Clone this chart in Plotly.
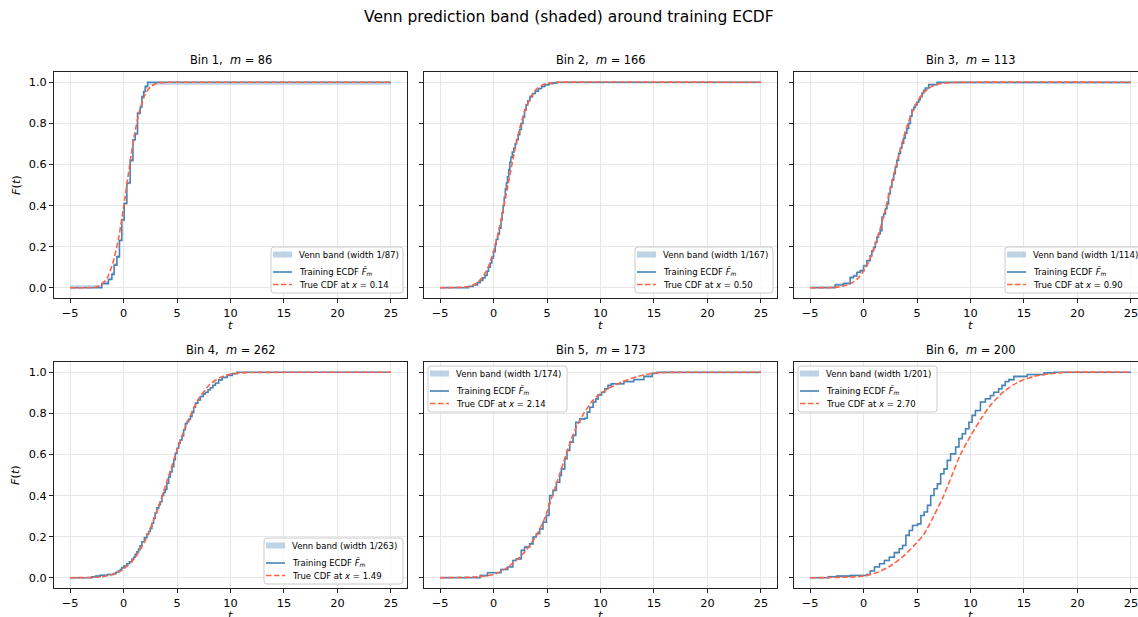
import plotly.graph_objects as go

# ---------------- data ----------------
bin_m = [86, 166, 113, 262, 173, 200]
bin_x = ["0.14", "0.50", "0.90", "1.49", "2.14", "2.70"]

# training ECDF: jump locations and the level after each jump
ecdf_t1 = [-2.03, -1.41, -1.09, -0.88, -0.62, -0.38, -0.16, 0.06, 0.31, 0.62, 0.88, 1.09, 1.31, 1.56, 1.72, 1.88, 2.03, 2.25]
ecdf_f1 = [0.02, 0.04, 0.065, 0.11, 0.15, 0.23, 0.33, 0.41, 0.51, 0.62, 0.72, 0.75, 0.85, 0.88, 0.93, 0.955, 0.98, 1.0]
ecdf_t2 = [-2.34, -1.9, -1.5, -1.25, -1.0, -0.8, -0.6, -0.47, -0.3, -0.16, 0.0, 0.16, 0.25, 0.4, 0.55, 0.7, 0.8, 0.9, 1.0, 1.1, 1.2, 1.3, 1.42, 1.52, 1.62, 1.75, 1.9, 2.03, 2.15, 2.3, 2.45, 2.6, 2.75, 2.9, 3.05, 3.2, 3.4, 3.65, 3.9, 4.2, 4.5, 4.8, 5.2, 5.6, 5.94]
ecdf_f2 = [0.006, 0.013, 0.024, 0.036, 0.048, 0.06, 0.08, 0.1, 0.12, 0.145, 0.175, 0.21, 0.235, 0.26, 0.29, 0.33, 0.365, 0.4, 0.44, 0.48, 0.51, 0.54, 0.575, 0.61, 0.635, 0.66, 0.68, 0.70, 0.72, 0.745, 0.77, 0.8, 0.83, 0.865, 0.89, 0.91, 0.93, 0.945, 0.957, 0.97, 0.98, 0.988, 0.994, 0.997, 1.0]
ecdf_t3 = [-2.66, -1.88, -1.25, -0.94, -0.62, -0.31, 0.0, 0.31, 0.62, 0.78, 0.94, 1.1, 1.25, 1.4, 1.56, 1.72, 1.88, 2.05, 2.19, 2.34, 2.5, 2.66, 2.82, 2.97, 3.12, 3.28, 3.45, 3.59, 3.75, 3.9, 4.05, 4.22, 4.38, 4.53, 4.7, 4.84, 5.0, 5.16, 5.3, 5.47, 5.62, 5.78, 6.09, 6.88]
ecdf_f3 = [0.013, 0.02, 0.049, 0.057, 0.074, 0.082, 0.106, 0.131, 0.155, 0.18, 0.196, 0.22, 0.245, 0.262, 0.278, 0.343, 0.359, 0.385, 0.408, 0.458, 0.49, 0.523, 0.555, 0.588, 0.62, 0.654, 0.68, 0.703, 0.728, 0.752, 0.775, 0.80, 0.835, 0.866, 0.878, 0.89, 0.903, 0.915, 0.93, 0.948, 0.96, 0.972, 0.989, 1.0]
ecdf_t4 = [-2.97, -2.6, -2.19, -1.5, -0.94, -0.7, -0.47, -0.3, -0.16, 0.05, 0.31, 0.55, 0.78, 0.95, 1.09, 1.25, 1.41, 1.55, 1.72, 1.95, 2.19, 2.35, 2.5, 2.65, 2.81, 2.95, 3.12, 3.3, 3.44, 3.59, 3.75, 3.9, 4.05, 4.22, 4.38, 4.53, 4.7, 4.84, 5.0, 5.16, 5.3, 5.47, 5.62, 5.78, 5.95, 6.09, 6.25, 6.4, 6.56, 6.72, 6.95, 7.19, 7.45, 7.66, 7.9, 8.12, 8.35, 8.59, 8.9, 9.22, 9.69, 10.16, 10.6]
ecdf_f4 = [0.004, 0.008, 0.012, 0.016, 0.02, 0.027, 0.033, 0.04, 0.049, 0.058, 0.068, 0.078, 0.09, 0.1, 0.114, 0.126, 0.139, 0.155, 0.175, 0.195, 0.212, 0.225, 0.24, 0.265, 0.29, 0.315, 0.34, 0.355, 0.37, 0.4, 0.415, 0.43, 0.46, 0.49, 0.515, 0.54, 0.575, 0.605, 0.63, 0.655, 0.67, 0.69, 0.72, 0.75, 0.76, 0.77, 0.785, 0.805, 0.83, 0.85, 0.865, 0.882, 0.895, 0.903, 0.915, 0.925, 0.937, 0.948, 0.963, 0.975, 0.985, 0.993, 1.0]
ecdf_t5 = [-1.25, -0.56, 0.69, 1.34, 1.81, 2.125, 2.59, 2.9, 3.375, 3.69, 4.0, 4.31, 4.625, 4.94, 5.19, 5.25, 5.56, 5.875, 6.19, 6.34, 6.66, 6.875, 7.125, 7.44, 7.69, 8.06, 8.53, 8.75, 9.0, 9.31, 9.56, 9.78, 10.1, 10.4, 10.7, 11.0, 12.19, 13.12, 14.06, 14.84, 15.3]
ecdf_f5 = [0.01, 0.024, 0.04, 0.052, 0.084, 0.092, 0.133, 0.149, 0.165, 0.198, 0.214, 0.238, 0.27, 0.303, 0.36, 0.40, 0.425, 0.465, 0.498, 0.53, 0.579, 0.62, 0.66, 0.693, 0.757, 0.773, 0.776, 0.806, 0.83, 0.855, 0.87, 0.89, 0.903, 0.92, 0.936, 0.944, 0.955, 0.965, 0.98, 0.995, 1.0]
ecdf_t6 = [-3.28, -2.5, -1.25, 0.31, 0.62, 1.02, 1.49, 1.95, 2.41, 2.88, 3.34, 3.65, 3.96, 4.27, 4.58, 5.05, 5.36, 5.67, 5.98, 6.28, 6.59, 6.9, 7.21, 7.52, 7.83, 8.14, 8.61, 8.92, 9.23, 9.54, 9.85, 10.15, 10.46, 10.93, 11.39, 11.86, 12.17, 12.63, 12.94, 13.25, 13.59, 14.06, 15.3, 16.88, 17.8]
ecdf_f6 = [0.005, 0.008, 0.011, 0.016, 0.033, 0.052, 0.068, 0.084, 0.10, 0.122, 0.141, 0.157, 0.206, 0.23, 0.254, 0.262, 0.303, 0.32, 0.352, 0.40, 0.433, 0.457, 0.506, 0.53, 0.571, 0.603, 0.636, 0.677, 0.701, 0.725, 0.757, 0.79, 0.814, 0.855, 0.871, 0.887, 0.903, 0.92, 0.936, 0.955, 0.964, 0.98, 0.989, 0.997, 1.0]

# true CDF (read at selected t values)
true_t1 = [-5, -3, -2.5, -2, -1.5, -1, -0.5, 0, 0.5, 1, 1.5, 2, 2.5, 3, 3.5, 4, 5, 25]
true_f1 = [0, 0.001, 0.005, 0.018, 0.05, 0.12, 0.23, 0.39, 0.57, 0.74, 0.86, 0.94, 0.977, 0.993, 0.998, 1.0, 1.0, 1.0]
true_t2 = [-5, -2.5, -2, -1.5, -1, -0.5, 0, 0.5, 1, 1.5, 2, 2.5, 3, 3.5, 4, 4.5, 5, 5.5, 6, 25]
true_f2 = [0, 0.004, 0.010, 0.025, 0.053, 0.10, 0.176, 0.28, 0.405, 0.54, 0.674, 0.786, 0.873, 0.931, 0.966, 0.985, 0.994, 0.998, 1.0, 1.0]
true_t3 = [-5, -3, -2, -1, -0.5, 0, 0.5, 1, 1.5, 2, 2.5, 3, 3.5, 4, 4.5, 5, 5.5, 6, 6.5, 7, 8, 25]
true_f3 = [0, 0.001, 0.006, 0.026, 0.047, 0.08, 0.128, 0.194, 0.277, 0.373, 0.48, 0.586, 0.686, 0.776, 0.848, 0.903, 0.942, 0.967, 0.983, 0.991, 0.998, 1.0]
true_t4 = [-5, -3, -2, -1, 0, 1, 2, 3, 4, 5, 6, 7, 8, 9, 10, 11, 12, 25]
true_f4 = [0, 0.0015, 0.005, 0.016, 0.042, 0.092, 0.179, 0.305, 0.46, 0.62, 0.762, 0.869, 0.937, 0.974, 0.991, 0.997, 0.999, 1.0]
true_t5 = [-5, -2, -1, 0, 0.875, 1.5, 2.28, 3.0, 3.375, 3.94, 4.625, 5.0, 5.5, 6.03, 6.75, 7.28, 7.81, 8.44, 9.16, 9.78, 10.7, 11.97, 12.75, 13.5, 14.5, 15.5, 25]
true_f5 = [0, 0.003, 0.007, 0.016, 0.036, 0.058, 0.092, 0.13, 0.157, 0.2, 0.27, 0.32, 0.40, 0.48, 0.595, 0.676, 0.74, 0.80, 0.855, 0.887, 0.92, 0.952, 0.968, 0.98, 0.992, 0.998, 1.0]
true_t6 = [-5, -2, 0, 1.25, 2.5, 3.75, 4.69, 5.625, 6.56, 7.5, 8.28, 9.06, 10.0, 10.94, 11.875, 13.125, 14.375, 15.94, 17.5, 19.06, 25]
true_f6 = [0, 0.002, 0.008, 0.025, 0.057, 0.106, 0.155, 0.21, 0.30, 0.40, 0.50, 0.60, 0.69, 0.77, 0.84, 0.907, 0.95, 0.98, 0.993, 1.0, 1.0]

x_ticks = [-5, 0, 5, 10, 15, 20, 25]
y_ticks = [0.0, 0.2, 0.4, 0.6, 0.8, 1.0]

ecdf_t = [ecdf_t1, ecdf_t2, ecdf_t3, ecdf_t4, ecdf_t5, ecdf_t6]
ecdf_f = [ecdf_f1, ecdf_f2, ecdf_f3, ecdf_f4, ecdf_f5, ecdf_f6]
true_t = [true_t1, true_t2, true_t3, true_t4, true_t5, true_t6]
true_f = [true_f1, true_f2, true_f3, true_f4, true_f5, true_f6]

# ---------------- layout geometry ----------------
W, H = 1138, 617
col_px = [(54, 407), (424, 777), (794, 1147)]
row_px = [(72, 298), (362, 588)]
PXU = 353 / 33.0  # pixels per t-unit

STEEL = "#4682B4"
TOMATO = "#FF6347"
BAND = "rgba(70,130,180,0.35)"
FONT = "DejaVu Sans"
DASH = "5.5px,2.5px"

# legend boxes: (left px, top px, width px)
legend_box = [(271, 247, 132), (635, 247, 138), (1005, 247, 138),
              (264, 538, 139), (428, 366, 139), (798, 366, 139)]


def px(xp):
    return xp / W


def py(yp):
    return 1 - yp / H


fig = go.Figure()
annotations = []
shapes = []
layout = dict(
    width=W, height=H, margin=dict(l=0, r=0, t=0, b=0, autoexpand=False),
    paper_bgcolor="white", plot_bgcolor="white",
    font=dict(family=FONT, size=11, color="#000"),
    showlegend=False,
)

for i in range(6):
    r, c = divmod(i, 3)
    k = i + 1
    xa = "x" if k == 1 else f"x{k}"
    ya = "y" if k == 1 else f"y{k}"
    m = bin_m[i]

    xs = [-5] + ecdf_t[i] + [25]
    fs = [0.0] + ecdf_f[i] + [ecdf_f[i][-1]]
    lower = [f * m / (m + 1) for f in fs]
    upper = [lo + 1.0 / (m + 1) for lo in lower]

    fig.add_trace(go.Scatter(x=xs, y=lower, mode="lines", line=dict(width=0, shape="hv", color=BAND),
                             hoverinfo="skip", xaxis=xa, yaxis=ya))
    fig.add_trace(go.Scatter(x=xs, y=upper, mode="lines", line=dict(width=0, shape="hv", color=BAND),
                             fill="tonexty", fillcolor=BAND, name=f"Venn band (width 1/{m + 1})",
                             xaxis=xa, yaxis=ya))
    fig.add_trace(go.Scatter(x=xs, y=fs, mode="lines", line=dict(width=1.6, shape="hv", color=STEEL),
                             name="Training ECDF", xaxis=xa, yaxis=ya))
    fig.add_trace(go.Scatter(x=true_t[i], y=true_f[i], mode="lines",
                             line=dict(width=1.6, color=TOMATO, dash=DASH, shape="spline", smoothing=0.6),
                             name=f"True CDF at x = {bin_x[i]}", xaxis=xa, yaxis=ya))

    x0, x1 = col_px[c]
    y0, y1 = row_px[r]
    xr0 = -6.5
    x1c = min(x1, W)
    xr1 = xr0 + (x1c - x0) / PXU
    axkey = "xaxis" if k == 1 else f"xaxis{k}"
    aykey = "yaxis" if k == 1 else f"yaxis{k}"
    layout[axkey] = dict(
        domain=[x0 / W, x1c / W], anchor=ya, range=[xr0, xr1],
        tickmode="array", tickvals=x_ticks, ticktext=[str(v).replace("-", "\u2212") for v in x_ticks],
        showgrid=True, gridcolor="#e7e7e7", gridwidth=1, zeroline=False,
        showline=True, linecolor="#222", linewidth=1, mirror=True,
        ticks="outside", ticklen=4, tickwidth=1, tickcolor="#222",
        ticklabeloverflow="allow",
        tickfont=dict(family=FONT, size=11.3, color="#000"),
    )
    layout[aykey] = dict(
        domain=[1 - y1 / H, 1 - y0 / H], anchor=xa, range=[-0.05, 1.05],
        tickmode="array", tickvals=y_ticks, ticktext=[f"{v:.1f}" for v in y_ticks],
        showticklabels=(c == 0),
        showgrid=True, gridcolor="#e7e7e7", gridwidth=1, zeroline=False,
        showline=True, linecolor="#222", linewidth=1, mirror=(c != 2),
        ticks="outside", ticklen=4, tickwidth=1, tickcolor="#222",
        tickfont=dict(family=FONT, size=11.3, color="#000"),
    )

    # subplot title
    annotations.append(dict(
        text=f"Bin {k},\u00a0\u00a0<i>m</i> = {m}", xref="paper", yref="paper",
        x=px((x0 + x1) / 2), y=py(y0 - 12), xanchor="center", yanchor="middle",
        showarrow=False, font=dict(family=FONT, size=11.4, color="#000")))
    # x label
    annotations.append(dict(
        text="<i>t</i>", xref="paper", yref="paper",
        x=px((x0 + x1) / 2), y=py(y1 + 27), xanchor="center", yanchor="middle",
        showarrow=False, font=dict(family=FONT, size=11.3, color="#000")))
    if c == 0:
        annotations.append(dict(
            text="<i>F</i>(<i>t</i>)", xref="paper", yref="paper", textangle=-90,
            x=px(16), y=py((y0 + y1) / 2), xanchor="center", yanchor="middle",
            showarrow=False, font=dict(family=FONT, size=11.3, color="#000")))

    # ---- in-axes legend (drawn as shapes + text) ----
    lx, ty, lw = legend_box[i]
    lh = 46
    rad = 3
    shapes.append(dict(
        type="path", xref="paper", yref="paper", layer="above",
        path=(f"M {px(lx + rad)},{py(ty)} L {px(lx + lw - rad)},{py(ty)} "
              f"Q {px(lx + lw)},{py(ty)} {px(lx + lw)},{py(ty + rad)} "
              f"L {px(lx + lw)},{py(ty + lh - rad)} Q {px(lx + lw)},{py(ty + lh)} {px(lx + lw - rad)},{py(ty + lh)} "
              f"L {px(lx + rad)},{py(ty + lh)} Q {px(lx)},{py(ty + lh)} {px(lx)},{py(ty + lh - rad)} "
              f"L {px(lx)},{py(ty + rad)} Q {px(lx)},{py(ty)} {px(lx + rad)},{py(ty)} Z"),
        fillcolor="rgba(255,255,255,0.8)", line=dict(color="#cccccc", width=1)))
    rows = [ty + 7.5, ty + 25, ty + 37.5]
    shapes.append(dict(type="rect", xref="paper", yref="paper", layer="above",
                       x0=px(lx + 2), x1=px(lx + 21), y0=py(rows[0] - 3), y1=py(rows[0] + 3),
                       fillcolor=BAND, line=dict(width=0)))
    shapes.append(dict(type="line", xref="paper", yref="paper", layer="above",
                       x0=px(lx + 2), x1=px(lx + 21), y0=py(rows[1]), y1=py(rows[1]),
                       line=dict(color=STEEL, width=1.6)))
    shapes.append(dict(type="line", xref="paper", yref="paper", layer="above",
                       x0=px(lx + 2), x1=px(lx + 21), y0=py(rows[2]), y1=py(rows[2]),
                       line=dict(color=TOMATO, width=1.6, dash=DASH)))
    texts = [f"Venn band (width 1/{m + 1})",
             "Training ECDF <i>F̂</i><sub><i>m</i></sub>",
             f"True CDF at <i>x</i> = {bin_x[i]}"]
    for txt, yy in zip(texts, [rows[0], rows[1] - 1, rows[2]]):
        annotations.append(dict(
            text=txt, xref="paper", yref="paper", x=px(lx + 26), y=py(yy),
            xanchor="left", yanchor="middle", showarrow=False,
            font=dict(family=FONT, size=8.5, color="#000")))

annotations.append(dict(
    text="Venn prediction band (shaded) around training ECDF", xref="paper", yref="paper",
    x=px(569), y=py(17), xanchor="center", yanchor="middle", showarrow=False,
    font=dict(family=FONT, size=15.5, color="#000")))

layout["annotations"] = annotations
layout["shapes"] = shapes
fig.update_layout(**layout)
fig.write_html("out.html")
